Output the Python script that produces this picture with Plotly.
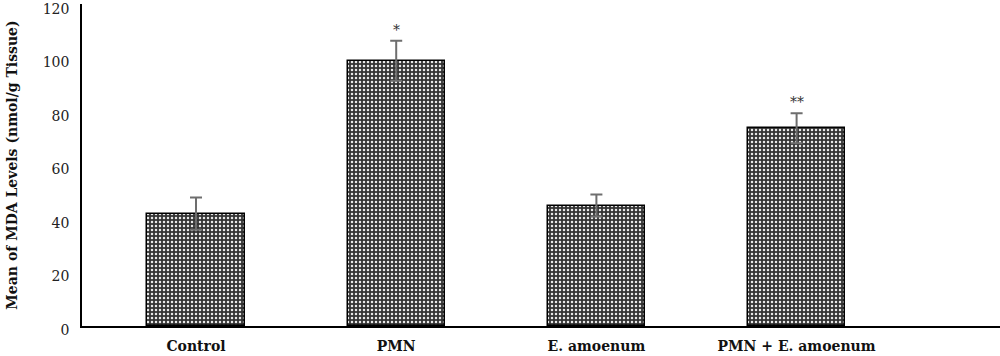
import plotly.graph_objects as go

categories = ["Control", "PMN", "E. amoenum", "PMN + E. amoenum"]
means = [42.0, 99.1, 45.0, 73.9]
sds = [6.0, 7.5, 4.1, 5.6]
stars = ["", "*", "", "**"]
y_ticks = [0, 20, 40, 60, 80, 100, 120]

xi = list(range(len(categories)))

fig = go.Figure()
fig.add_trace(go.Bar(
    x=xi, y=means, width=0.485,
    marker=dict(
        color="#333333",
        line=dict(color="black", width=1.5),
        pattern=dict(shape=".", fgcolor="#e8e8e8", bgcolor="#333333",
                     size=4, solidity=0.3, fillmode="replace"),
    ),
    error_y=dict(type="data", array=sds, visible=True,
                 color="#6e6e6e", thickness=2, width=6),
    showlegend=False,
))

for i, (m, s, st) in enumerate(zip(means, sds, stars)):
    if st:
        fig.add_annotation(x=i, y=m + s, text=st, showarrow=False,
                           yanchor="bottom", yshift=1,
                           font=dict(family="DejaVu Serif", size=14, color="#333"))

fig.update_layout(
    width=1000, height=356,
    margin=dict(l=82, r=0, t=4, b=30),
    plot_bgcolor="white", paper_bgcolor="white",
    bargap=0,
    font=dict(family="DejaVu Serif", size=14, color="#222"),
)
fig.update_xaxes(
    range=[-0.5695, 4.016], automargin=False,
    tickmode="array", tickvals=xi,
    ticktext=["<b>%s</b>" % c for c in categories],
    tickfont=dict(family="DejaVu Serif", size=14, color="#111"),
    showline=True, linecolor="black", linewidth=2,
    showgrid=False, ticks="", zeroline=False,
    ticklabelstandoff=6,
)
fig.update_yaxes(
    range=[0, 120.3], automargin=False,
    tickmode="array", tickvals=y_ticks,
    tickfont=dict(family="DejaVu Serif", size=14, color="#222"),
    showline=True, linecolor="black", linewidth=1.5,
    showgrid=False, ticks="", zeroline=False,
    ticklabelstandoff=8, ticklabeloverflow="allow", ticklabelshift=4,
    title=dict(text="<b>Mean of MDA Levels (nmol/g Tissue)</b>",
               font=dict(family="DejaVu Serif", size=14, color="#111"),
               standoff=22),
)

fig.write_html("out.html", config={"displayModeBar": False},
               post_script="document.body.style.margin='0';document.body.style.overflow='hidden';")
